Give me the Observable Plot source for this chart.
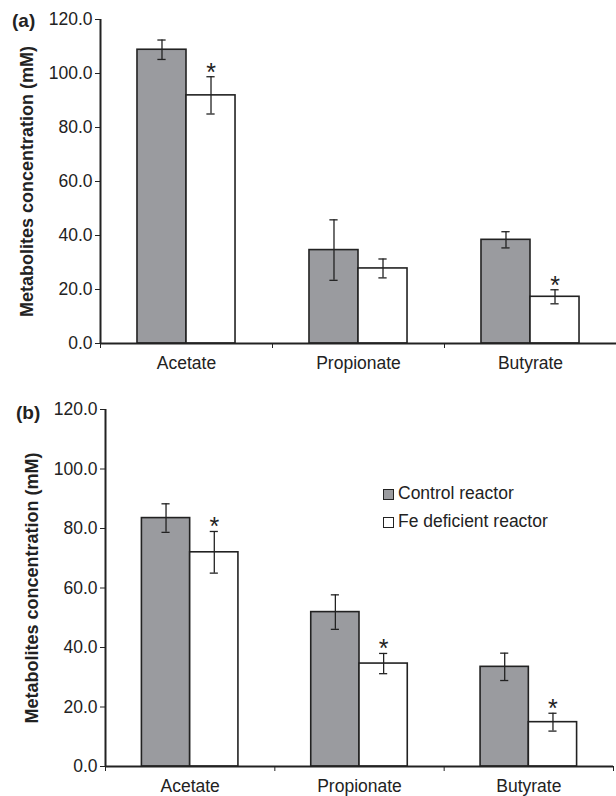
<!DOCTYPE html>
<html><head><meta charset="utf-8">
<script src="https://cdn.jsdelivr.net/npm/d3@7"></script>
<script src="https://cdn.jsdelivr.net/npm/@observablehq/plot@0.6"></script>
<style>
body{margin:0;background:#fff;font-family:"Liberation Sans",Arial,sans-serif;}
#root{position:relative;width:616px;height:796px;overflow:hidden;}
.panel{position:absolute;left:0;}
.plabel{position:absolute;font-weight:bold;font-size:19px;color:#222;line-height:1;}
.legend{position:absolute;left:383px;font-size:17.5px;color:#222;line-height:1;}
.legend .row{display:flex;align-items:center;height:28px;}
.legend .sw{width:9px;height:9px;border:1.3px solid #222;margin-right:4px;box-sizing:content-box;}
</style></head><body><div id="root"></div>
<script>
const categories = ["Acetate", "Propionate", "Butyrate"];
const seriesNames = ["Control reactor", "Fe deficient reactor"];
const yTicks = [0, 20, 40, 60, 80, 100, 120];
const yLabel = "Metabolites concentration (mM)";

// Panel (a)
const controlA = [108.8, 34.6, 38.4];
const controlErrA = [3.6, 11.2, 3.0];
const feA = [91.9, 27.8, 17.3];
const feErrA = [6.9, 3.5, 2.6];
const sigA = [true, false, true];

// Panel (b)
const controlB = [83.5, 51.9, 33.5];
const controlErrB = [4.8, 5.8, 4.6];
const feB = [72.0, 34.6, 14.9];
const feErrB = [7.0, 3.4, 3.0];
const sigB = [true, true, true];

const colors = ["#9a9b9f", "#ffffff"];
const ink = "#222";
const barStart = [0.215, 0.5];
const barW = 0.285;
const capHalf = 0.024;

function rowsFor(ctrl, ctrlErr, fe, feErr, sig) {
  const rows = [];
  categories.forEach((c, i) => {
    [[ctrl[i], ctrlErr[i], false], [fe[i], feErr[i], sig[i]]].forEach(([v, e, s], k) => {
      const x1 = i + barStart[k], x2 = x1 + barW;
      rows.push({cat: c, i, series: seriesNames[k], k, value: v, err: e, sig: s, x1, x2, xc: (x1 + x2) / 2});
    });
  });
  return rows;
}

function panel(rows, {height, marginTop, marginBottom, marginLeft, marginRight}) {
  return Plot.plot({
    width: 616, height, marginTop, marginBottom, marginLeft, marginRight,
    style: {fontSize: "17.5px", fontFamily: "Liberation Sans, Arial, sans-serif", color: ink, background: "transparent", overflow: "visible"},
    x: {type: "linear", domain: [0, categories.length], ticks: d3.range(categories.length + 1), tickFormat: () => "", tickSize: 5, label: null},
    y: {domain: [0, 120], ticks: yTicks, tickFormat: d3.format(".1f"), tickSize: 5, tickPadding: 3, label: null},
    marks: [
      Plot.rectY(rows, {x1: "x1", x2: "x2", y: "value", fill: d => colors[d.k], stroke: ink, strokeWidth: 1.6}),
      Plot.ruleX(rows, {x: "xc", y1: d => d.value - d.err, y2: d => d.value + d.err, stroke: ink, strokeWidth: 1.3}),
      Plot.ruleY(rows, {y: d => d.value + d.err, x1: d => d.xc - capHalf, x2: d => d.xc + capHalf, stroke: ink, strokeWidth: 1.3}),
      Plot.ruleY(rows, {y: d => d.value - d.err, x1: d => d.xc - capHalf, x2: d => d.xc + capHalf, stroke: ink, strokeWidth: 1.3}),
      Plot.text(rows.filter(d => d.sig), {x: "xc", y: d => d.value + d.err, text: () => "*", dy: -4, fontSize: 25, fill: ink}),
      Plot.ruleX([0], {stroke: ink, strokeWidth: 2}),
      Plot.ruleY([0], {stroke: ink, strokeWidth: 2}),
      Plot.text(categories, {x: (d, i) => i + 0.5, y: () => 0, text: d => d, dy: 20, fill: ink}),
      Plot.text([yLabel], {frameAnchor: "left", textAnchor: "middle", rotate: -90, dx: -73, fontWeight: "bold", fontSize: 18, fill: ink})
    ]
  });
}

const root = document.getElementById("root");

const a = panel(rowsFor(controlA, controlErrA, feA, feErrA, sigA), {height: 380, marginTop: 19, marginBottom: 37, marginLeft: 100, marginRight: 0});
a.classList.add("panel"); a.style.top = "0px";
root.appendChild(a);

const b = panel(rowsFor(controlB, controlErrB, feB, feErrB, sigB), {height: 416, marginTop: 29, marginBottom: 30, marginLeft: 105, marginRight: 3});
b.classList.add("panel"); b.style.top = "380px";
root.appendChild(b);

function label(txt, left, top) {
  const d = document.createElement("div");
  d.className = "plabel"; d.textContent = txt;
  d.style.left = left + "px"; d.style.top = top + "px";
  root.appendChild(d);
}
label("(a)", 12, 11);
label("(b)", 16, 403);

const lg = document.createElement("div");
lg.className = "legend"; lg.style.top = "480px";
seriesNames.forEach((s, k) => {
  const r = document.createElement("div"); r.className = "row";
  const sw = document.createElement("span"); sw.className = "sw"; sw.style.background = colors[k];
  const t = document.createElement("span"); t.textContent = s;
  r.appendChild(sw); r.appendChild(t); lg.appendChild(r);
});
root.appendChild(lg);
</script>
</body></html>
